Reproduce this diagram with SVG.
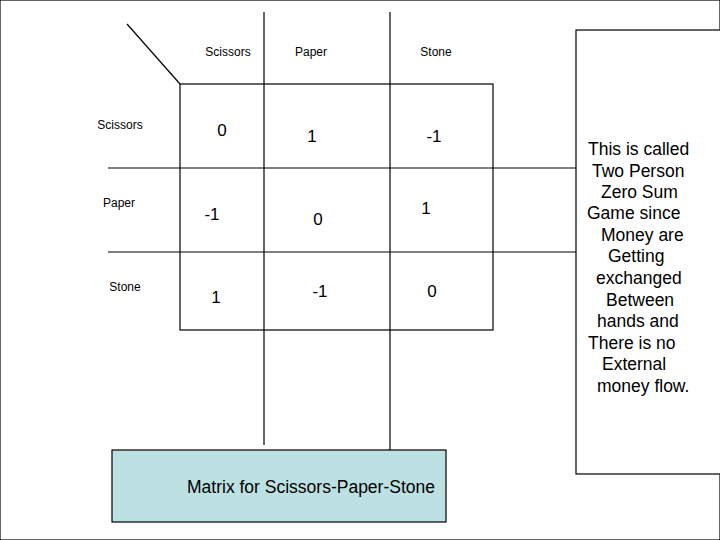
<svg xmlns="http://www.w3.org/2000/svg" width="720" height="540" viewBox="0 0 720 540">
<style>
text{font-family:"Liberation Sans",Arial,sans-serif;fill:#000}
.h{font-size:12px;text-anchor:middle}
.v{font-size:17px;text-anchor:middle}
.n{font-size:17.5px}
line,rect{stroke:#000;stroke-width:1.2}
</style>
<rect width="720" height="540" fill="#fff" stroke="none"/>
<g id="connectors">
<line x1="127" y1="24" x2="180" y2="84"/>
<line x1="264" y1="12" x2="264" y2="445"/>
<line x1="390" y1="12" x2="390" y2="450"/>
<line x1="108" y1="168" x2="576" y2="168"/>
<line x1="108" y1="252" x2="576" y2="252"/>
</g>
<g id="grid"><rect x="180" y="84" width="313" height="246" fill="none"/></g>
<g id="headers">
<text class="h" x="228" y="56">Scissors</text>
<text class="h" x="311" y="56">Paper</text>
<text class="h" x="436" y="56">Stone</text>
<text class="h" x="120" y="129">Scissors</text>
<text class="h" x="119" y="207">Paper</text>
<text class="h" x="125" y="291">Stone</text>
</g>
<g id="values">
<text class="v" x="222" y="136">0</text>
<text class="v" x="312" y="142">1</text>
<text class="v" x="434" y="142">-1</text>
<text class="v" x="212" y="220">-1</text>
<text class="v" x="318" y="225">0</text>
<text class="v" x="426" y="214">1</text>
<text class="v" x="216" y="303">1</text>
<text class="v" x="320" y="297">-1</text>
<text class="v" x="432" y="297">0</text>
</g>
<g id="caption">
<rect x="112" y="450" width="334" height="72" fill="#bde0e3"/>
<text class="n" x="311" y="493" text-anchor="middle">Matrix for Scissors-Paper-Stone</text>
</g>
<g id="note">
<rect x="576" y="30" width="150" height="444" fill="#fff"/>
<text class="n" x="588" y="155">This is called</text>
<text class="n" x="592" y="177">Two Person</text>
<text class="n" x="601" y="198">Zero Sum</text>
<text class="n" x="587" y="219">Game since</text>
<text class="n" x="601" y="241">Money are</text>
<text class="n" x="608" y="262">Getting</text>
<text class="n" x="596" y="284">exchanged</text>
<text class="n" x="606" y="306">Between</text>
<text class="n" x="597" y="327">hands and</text>
<text class="n" x="588" y="349">There is no</text>
<text class="n" x="602" y="370">External</text>
<text class="n" x="597" y="392">money flow.</text>
</g>
</svg>
